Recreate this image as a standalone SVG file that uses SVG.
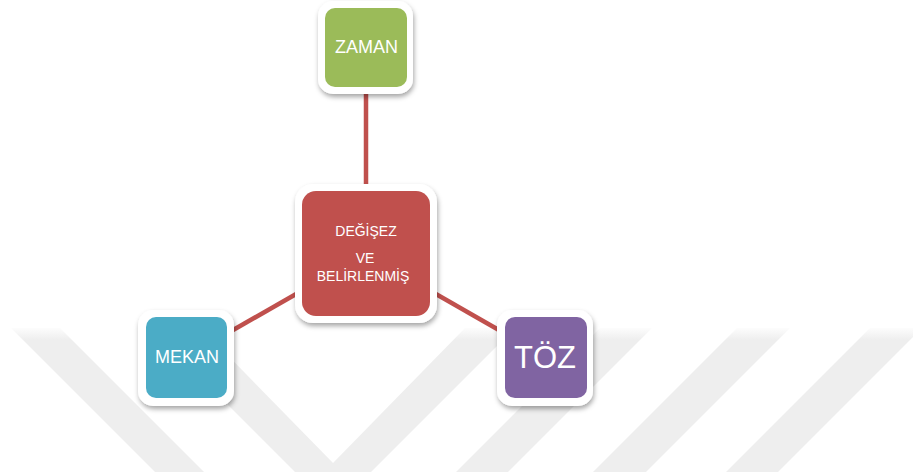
<svg xmlns="http://www.w3.org/2000/svg" width="913" height="472" viewBox="0 0 913 472">
<style>
.wm{fill:url(#wmg);}
.frame{fill:#ffffff;filter:url(#sh);}
.lbl{fill:#ffffff;font-family:"Liberation Sans","Open Sans",Arial,sans-serif;text-anchor:middle;}
.conn{stroke:#c0504d;stroke-width:4.5;fill:none;}
</style>
<defs>
<linearGradient id="wmg" gradientUnits="userSpaceOnUse" x1="0" y1="326" x2="0" y2="340">
<stop offset="0" stop-color="#ffffff"/>
<stop offset="1" stop-color="#eeeeee"/>
</linearGradient>
<filter id="sh" x="-20%" y="-20%" width="140%" height="150%">
<feDropShadow dx="1" dy="3" stdDeviation="2.5" flood-color="#000000" flood-opacity="0.35"/>
</filter>
</defs>
<rect width="913" height="472" fill="#ffffff"/>
<g id="watermark">
<polygon class="wm" points="11,328 60,328 204,472 155,472"/>
<polygon class="wm" points="151,328 201,328 333,463 465,328 515,328 371,472 295,472"/>
<polygon class="wm" points="600,328 652,328 508,472 456,472"/>
<polygon class="wm" points="737,328 790,328 646,472 593,472"/>
<polygon class="wm" points="870,328 922,328 778,472 726,472"/>
</g>
<g id="connectors">
<line class="conn" x1="366" y1="47" x2="366" y2="254"/>
<line class="conn" x1="366" y1="254" x2="186" y2="357"/>
<line class="conn" x1="366" y1="254" x2="546" y2="357"/>
</g>
<g id="center">
<rect class="frame" x="295" y="184" width="142" height="139" rx="18"/>
<rect x="302" y="191" width="128" height="125" rx="14" fill="#c0504d"/>
<text class="lbl" x="366" y="236" font-size="14">DEĞİŞEZ</text>
<text class="lbl" x="365" y="263" font-size="14">VE</text>
<text class="lbl" x="363" y="281" font-size="14">BELİRLENMİŞ</text>
</g>
<g id="zaman">
<rect class="frame" x="318" y="1" width="95" height="93" rx="15"/>
<rect x="325" y="8" width="82" height="79" rx="10" fill="#9bbb59"/>
<text class="lbl" x="366.5" y="53" font-size="18">ZAMAN</text>
</g>
<g id="mekan">
<rect class="frame" x="138" y="310" width="96" height="96" rx="15"/>
<rect x="146" y="317" width="81" height="81" rx="10" fill="#4bacc6"/>
<text class="lbl" x="187" y="363" font-size="18">MEKAN</text>
</g>
<g id="toz">
<rect class="frame" x="497" y="310" width="96" height="96" rx="15"/>
<rect x="505" y="317" width="82" height="81" rx="10" fill="#8064a2"/>
<text class="lbl" x="545" y="368" font-size="31">TÖZ</text>
</g>
</svg>
